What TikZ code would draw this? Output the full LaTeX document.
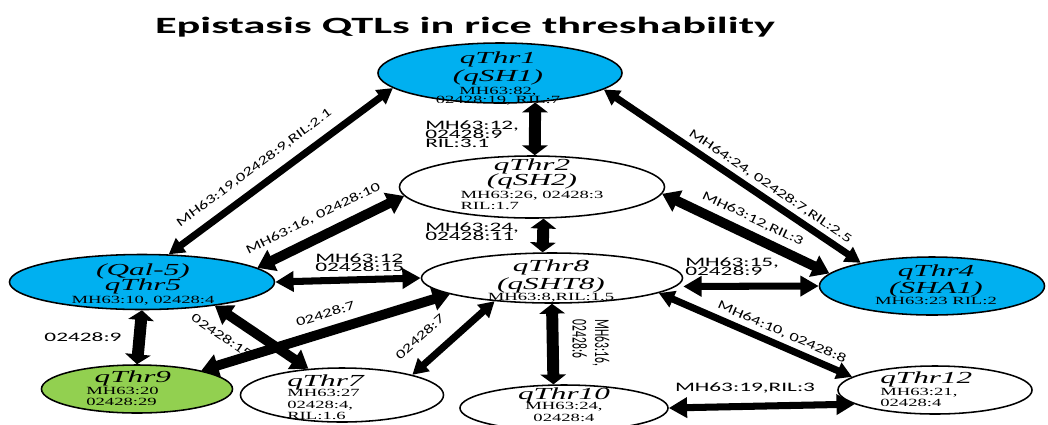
\documentclass[tikz,border=0pt]{standalone}
\usepackage{fontspec}
\usetikzlibrary{arrows.meta, shapes.geometric}
\definecolor{qblue}{RGB}{0,176,240}
\definecolor{qgreen}{RGB}{146,208,80}
\newfontfamily\ttlfont[FakeStretch=1.9]{Carlito}
\newfontfamily\qtlfont[FakeStretch=1.85]{Liberation Serif}
\newfontfamily\qinfofont[FakeStretch=1.7]{Liberation Serif}
\newfontfamily\lblfont[FakeStretch=1.8]{Carlito}
\newfontfamily\slfont[FakeStretch=1.45]{Carlito}
\newfontfamily\vlfont[FakeStretch=0.55]{Carlito}
\providecommand{\qn}{\qtlfont\fontsize{12}{7.5}\selectfont\itshape}
\providecommand{\qi}{\qinfofont\fontsize{7.8}{7.5}\selectfont\upshape}

\begin{document}
\begin{tikzpicture}[
  x=0.025cm, y=-0.025cm,
  qtl/.style   = {ellipse, draw, line width=1.1pt, inner sep=0pt},
  qtxt/.style  = {inner sep=0pt, align=center, font={\qi\lineskiplimit=-20pt}},
  epi/.style   = {line width=5pt, >={Triangle[length=11pt,width=12pt]}, <->},   % plain link
  epib/.style  = {line width=7pt, >={Triangle[length=12pt,width=16pt]}, <->},   % heavy link
  epih/.style  = {line width=5pt, >={Triangle[length=13pt,width=14pt]}, <->},   % horizontal
  epiv/.style  = {line width=8.5pt, >={Triangle[length=7pt,width=18pt]}, <->},  % vertical
  elbl/.style  = {inner sep=0pt, align=left,
                  font={\lblfont\fontsize{9.2}{6.3}\selectfont\lineskiplimit=-20pt}},
  slbl/.style  = {inner sep=0pt, sloped, font={\slfont\fontsize{9}{6}\selectfont}},
  vlbl/.style  = {inner sep=0pt, align=left, rotate=-90,
                  font={\vlfont\fontsize{15}{16}\selectfont\lineskiplimit=-20pt}},
  ttl/.style   = {inner sep=0pt, font={\ttlfont\bfseries\fontsize{16.6}{20}\selectfont}},
]
\useasboundingbox (0,0) rectangle (1048,424);

\node[ttl] (title) at (465,27) {Epistasis QTLs in rice threshability};

% ---------- QTL ellipses ----------
\node[qtl, fill=qblue,  minimum width=61mm,    minimum height=15mm]    (q1)  at (500,73)  {};
\node[qtl, fill=white,  minimum width=66.25mm, minimum height=15.5mm]  (q2)  at (532,187) {};
\node[qtl, fill=white,  minimum width=65.25mm, minimum height=12.5mm]  (q8)  at (552,278) {};
\node[qtl, fill=qblue,  minimum width=66.25mm, minimum height=13.75mm] (q5)  at (142,282) {};
\node[qtl, fill=qblue,  minimum width=56.25mm, minimum height=14.5mm]  (q4)  at (932,286) {};
\node[qtl, fill=qgreen, minimum width=47.75mm, minimum height=12mm]    (q9)  at (137,389) {};
\node[qtl, fill=white,  minimum width=50.75mm, minimum height=13.5mm]  (q7)  at (342,395) {};
\node[qtl, fill=white,  minimum width=52mm,    minimum height=11.5mm]  (q10) at (564,408) {};
\node[qtl, fill=white,  minimum width=48.5mm,  minimum height=12mm]    (q12) at (935,390) {};

% ---------- QTL names and counts ----------
\node[qtxt] (t1) at (498,78.5)
  {\qn qThr1\\[4.9pt]\qn (qSH1)\\[2pt]\qi MH63:82,\\[-1.5pt]\qi 02428:19, RIL:7};
\node[qtxt] (t2) at (532,185)
  {\qn qThr2\\[2.7pt]\qn (qSH2)\\[1.7pt]\qi MH63:26, 02428:3\\[0.3pt]%
   \qi\rlap{RIL:1.7}\phantom{MH63:26, 02428:3}};
\node[qtxt] (t5) at (143,284)
  {\qn (Qal-5)\\[3.7pt]\qn qThr5\\[1.2pt]\qi MH63:10, 02428:4};
\node[qtxt] (t8) at (551,281)
  {\qn qThr8\\[4.8pt]\qn (qSHT8)\\[0.3pt]\qi MH63:8,RIL:1.5};
\node[qtxt] (t4) at (936,284.3)
  {\qn qThr4\\[4.8pt]\qn (SHA1)\\\qi MH63:23 RIL:2};
\node[qtxt, align=left, anchor=west] (t9) at (86,388.5)
  {\qn\hspace*{6pt}qThr9\\[1.2pt]\qi MH63:20\\[0.3pt]\qi 02428:29};
\node[qtxt, align=left, anchor=west] (t7) at (287,397)
  {\qn qThr7\\[-0.4pt]\qi MH63:27\\[0.8pt]\qi 02428:4,\\[0.3pt]\qi RIL:1.6};
\node[qtxt] (t10) at (564,405)
  {\qn qThr10\\[-0.5pt]\qi MH63:24,\\[1.3pt]\qi 02428:4};
\node[qtxt, align=left, anchor=west] (t12) at (880,389)
  {\qn qThr12\\[1.7pt]\qi MH63:21,\\\qi 02428:4};

% ---------- epistatic links ----------
\draw[epi]  (q5.46)    -- (q1.188)  node[slbl, pos=0.43, above=7pt]   (l1)  {MH63:19,02428:9,RIL:2.1};
\draw[epib] (q5.7)     -- (q2.184)  node[slbl, pos=0.44, above=7pt]   (l2)  {MH63:16, 02428:10};
\draw[epih] (q5.east)  -- (q8.west);
\draw[epiv] (q1.320)   -- (q2.85);
\draw[epi]  (q1.351)   -- (q4.162)  node[slbl, pos=0.62, above=3pt]   (l5)  {MH64:24, 02428:7,RIL:2.5};
\draw[epib] (q2.357)   -- (q4.173)  node[slbl, pos=0.5,  above=4.5pt] (l6)  {MH63:12,RIL:3};
\draw[epiv] (q2.290)   -- (q8.110);
\draw[epih] ([yshift=-6pt]q8.east) -- (q4.west);
\draw[epi]  (q8.352)   -- (q12.171) node[slbl, pos=0.61, above=3pt]   (l9)  {MH64:10, 02428:8};
\draw[epiv] (q8.south) -- (q10.114);
\draw[epi]  (q7.16)    -- (q8.202)  node[slbl, pos=0.28, above=11pt]  (l11) {02428:7};
\draw[epib] (q9.16)    -- (q8.189)  node[slbl, pos=0.52, above=6pt]   (l12) {02428:7};
\draw[epib] (q5.342)   -- (q7.142)  node[slbl, pos=0.2,  below=8.5pt] (l13) {02428:15};
\draw[epiv] (q5.south) -- (q9.north);
\draw[epih] (q10.east) -- (q12.190);

% ---------- straight link labels ----------
\node[elbl, anchor=west] (l3)  at (315,263)   {MH63:12\\02428:15};
\node[elbl, anchor=west] (l4)  at (425,134.5) {MH63:12,\\02428:9\\RIL:3.1};
\node[elbl, anchor=west] (l7)  at (425,232)   {MH63:24,\\02428:11};
\node[elbl, anchor=west] (l8)  at (685,267)   {MH63:15,\\02428:9};
\node[vlbl]              (l10) at (591,343)   {MH63:16,\\02428:6};
\node[elbl]              (l14) at (83,337)    {02428:9};
\node[elbl]              (l15) at (745,388)   {MH63:19,RIL:3};

\end{tikzpicture}
\end{document}
